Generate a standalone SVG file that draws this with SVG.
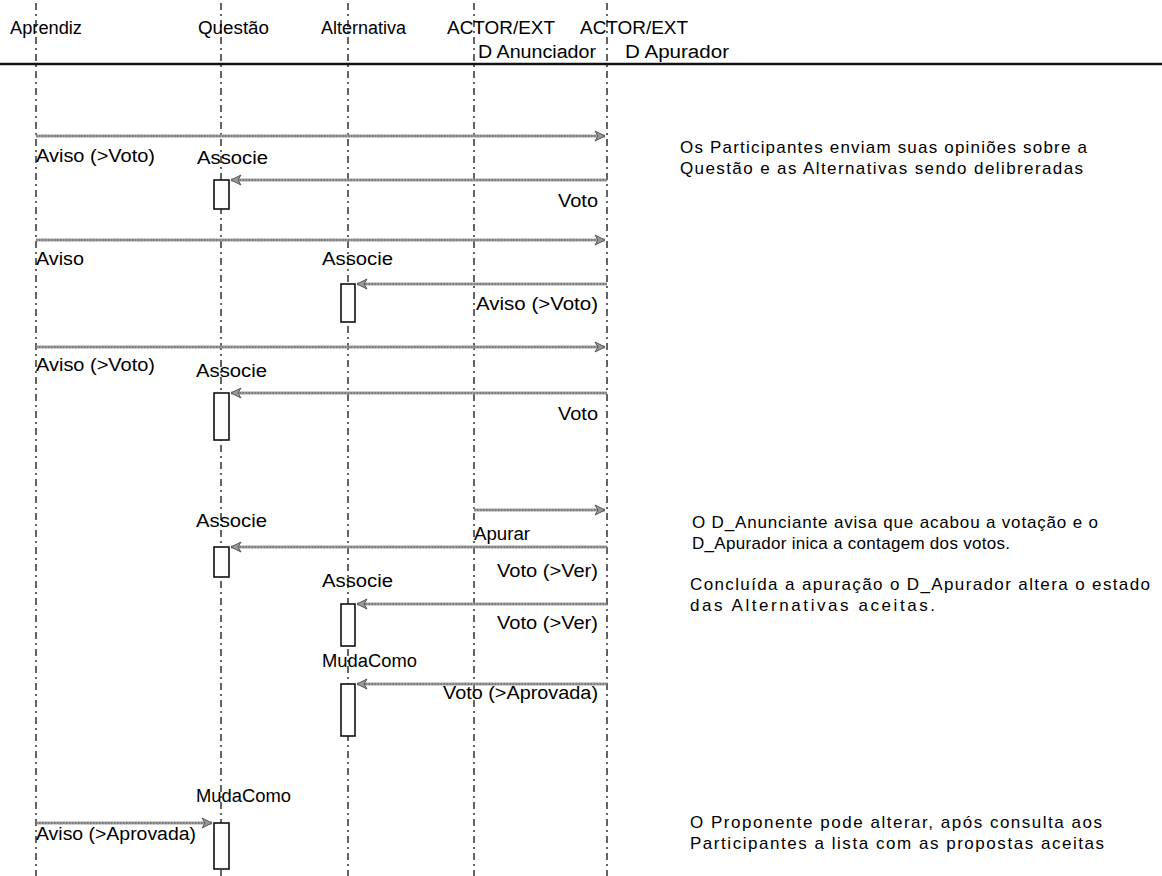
<svg xmlns="http://www.w3.org/2000/svg" width="1162" height="876" viewBox="0 0 1162 876">
  <style>
    text { font-family: "Liberation Sans", Arial, sans-serif; fill: #000; }
    .hdr { font-size: 18px; }
    .lbl { font-size: 18px; }
    .note { font-size: 17px; }
    .life { stroke: #111; stroke-width: 1.3; stroke-dasharray: 7 4 2 4; fill: none; }
    .act { fill: #fff; stroke: #111; stroke-width: 1.6; }
    .msg-base { stroke: #a0a0a0; stroke-width: 3; fill: none; }
    .msg-core { stroke: #505050; stroke-width: 1; stroke-dasharray: 1.5 1.5; fill: none; }
  </style>
  <defs>
    <marker id="head" markerUnits="userSpaceOnUse" markerWidth="14" markerHeight="12" viewBox="0 0 14 12" refX="12" refY="6" orient="auto">
      <path d="M2,1 L12,6 L2,11 L5,6 Z" fill="#9a9a9a" stroke="#555" stroke-width="1"/>
    </marker>
  </defs>

  <rect width="1162" height="876" fill="#fff"/>

  <!-- header rule -->
  <line x1="0" y1="64" x2="1162" y2="64" stroke="#111" stroke-width="2.5"/>

  <!-- lifelines with their header labels -->
  <g id="aprendiz">
    <line class="life" x1="36" y1="3" x2="36" y2="876"/>
    <text class="hdr" x="10" y="34" textLength="72" lengthAdjust="spacingAndGlyphs">Aprendiz</text>
  </g>
  <g id="questao">
    <line class="life" x1="221" y1="3" x2="221" y2="876"/>
    <text class="hdr" x="198" y="34" textLength="71" lengthAdjust="spacingAndGlyphs">Questão</text>
  </g>
  <g id="alternativa">
    <line class="life" x1="348" y1="3" x2="348" y2="876"/>
    <text class="hdr" x="321" y="34" textLength="85" lengthAdjust="spacingAndGlyphs">Alternativa</text>
  </g>
  <g id="anunciador">
    <line class="life" x1="474" y1="3" x2="474" y2="876"/>
    <text class="hdr" x="447" y="34" textLength="108" lengthAdjust="spacingAndGlyphs">ACTOR/EXT</text>
    <text class="hdr" x="478" y="58" textLength="118" lengthAdjust="spacingAndGlyphs">D Anunciador</text>
  </g>
  <g id="apurador">
    <line class="life" x1="607" y1="3" x2="607" y2="876"/>
    <text class="hdr" x="580" y="34" textLength="108" lengthAdjust="spacingAndGlyphs">ACTOR/EXT</text>
    <text class="hdr" x="625" y="58" textLength="104" lengthAdjust="spacingAndGlyphs">D Apurador</text>
  </g>

  <!-- activation bars -->
  <g id="activations">
    <rect class="act" x="214" y="180" width="15" height="29"/>
    <rect class="act" x="341" y="284" width="14" height="38"/>
    <rect class="act" x="214" y="393" width="15" height="47"/>
    <rect class="act" x="214" y="547" width="15" height="30"/>
    <rect class="act" x="341" y="604" width="14" height="42"/>
    <rect class="act" x="341" y="684" width="14" height="52"/>
    <rect class="act" x="214" y="823" width="15" height="46"/>
  </g>

  <!-- messages -->
  <g id="connectors">
    <g>
      <line class="msg-base" x1="36" y1="136" x2="605" y2="136" marker-end="url(#head)"/>
      <line class="msg-core" x1="36" y1="136" x2="598" y2="136"/>
    </g>
    <g>
      <line class="msg-base" x1="607" y1="180" x2="231" y2="180" marker-end="url(#head)"/>
      <line class="msg-core" x1="607" y1="180" x2="238" y2="180"/>
    </g>
    <g>
      <line class="msg-base" x1="36" y1="240" x2="605" y2="240" marker-end="url(#head)"/>
      <line class="msg-core" x1="36" y1="240" x2="598" y2="240"/>
    </g>
    <g>
      <line class="msg-base" x1="607" y1="284" x2="357" y2="284" marker-end="url(#head)"/>
      <line class="msg-core" x1="607" y1="284" x2="364" y2="284"/>
    </g>
    <g>
      <line class="msg-base" x1="36" y1="347" x2="605" y2="347" marker-end="url(#head)"/>
      <line class="msg-core" x1="36" y1="347" x2="598" y2="347"/>
    </g>
    <g>
      <line class="msg-base" x1="607" y1="393" x2="231" y2="393" marker-end="url(#head)"/>
      <line class="msg-core" x1="607" y1="393" x2="238" y2="393"/>
    </g>
    <g>
      <line class="msg-base" x1="474" y1="510" x2="605" y2="510" marker-end="url(#head)"/>
      <line class="msg-core" x1="474" y1="510" x2="598" y2="510"/>
    </g>
    <g>
      <line class="msg-base" x1="607" y1="547" x2="231" y2="547" marker-end="url(#head)"/>
      <line class="msg-core" x1="607" y1="547" x2="238" y2="547"/>
    </g>
    <g>
      <line class="msg-base" x1="607" y1="604" x2="357" y2="604" marker-end="url(#head)"/>
      <line class="msg-core" x1="607" y1="604" x2="364" y2="604"/>
    </g>
    <g>
      <line class="msg-base" x1="607" y1="684" x2="357" y2="684" marker-end="url(#head)"/>
      <line class="msg-core" x1="607" y1="684" x2="364" y2="684"/>
    </g>
    <g>
      <line class="msg-base" x1="36" y1="823" x2="212" y2="823" marker-end="url(#head)"/>
      <line class="msg-core" x1="36" y1="823" x2="205" y2="823"/>
    </g>
  </g>

  <!-- message and operation labels -->
  <g id="labels">
    <text class="lbl" x="36" y="162" textLength="119" lengthAdjust="spacingAndGlyphs">Aviso (&gt;Voto)</text>
    <text class="lbl" x="197" y="164" textLength="71" lengthAdjust="spacingAndGlyphs">Associe</text>
    <text class="lbl" x="558" y="207" textLength="40" lengthAdjust="spacingAndGlyphs">Voto</text>
    <text class="lbl" x="36" y="265" textLength="48" lengthAdjust="spacingAndGlyphs">Aviso</text>
    <text class="lbl" x="322" y="265" textLength="71" lengthAdjust="spacingAndGlyphs">Associe</text>
    <text class="lbl" x="476" y="310" textLength="122" lengthAdjust="spacingAndGlyphs">Aviso (&gt;Voto)</text>
    <text class="lbl" x="36" y="371" textLength="119" lengthAdjust="spacingAndGlyphs">Aviso (&gt;Voto)</text>
    <text class="lbl" x="196" y="377" textLength="71" lengthAdjust="spacingAndGlyphs">Associe</text>
    <text class="lbl" x="558" y="420" textLength="40" lengthAdjust="spacingAndGlyphs">Voto</text>
    <text class="lbl" x="196" y="527" textLength="71" lengthAdjust="spacingAndGlyphs">Associe</text>
    <text class="lbl" x="474" y="540" textLength="56" lengthAdjust="spacingAndGlyphs">Apurar</text>
    <text class="lbl" x="497" y="577" textLength="101" lengthAdjust="spacingAndGlyphs">Voto (&gt;Ver)</text>
    <text class="lbl" x="322" y="587" textLength="71" lengthAdjust="spacingAndGlyphs">Associe</text>
    <text class="lbl" x="497" y="629" textLength="101" lengthAdjust="spacingAndGlyphs">Voto (&gt;Ver)</text>
    <text class="lbl" x="322" y="667" textLength="95" lengthAdjust="spacingAndGlyphs">MudaComo</text>
    <text class="lbl" x="443" y="699" textLength="155" lengthAdjust="spacingAndGlyphs">Voto (&gt;Aprovada)</text>
    <text class="lbl" x="196" y="802" textLength="95" lengthAdjust="spacingAndGlyphs">MudaComo</text>
    <text class="lbl" x="36" y="840" textLength="160" lengthAdjust="spacingAndGlyphs">Aviso (&gt;Aprovada)</text>
  </g>

  <!-- side notes -->
  <g id="note-opinioes">
    <text class="note" x="680" y="153" textLength="407" lengthAdjust="spacing">Os Participantes enviam suas opiniões sobre a</text>
    <text class="note" x="680" y="174" textLength="403" lengthAdjust="spacing">Questão e as Alternativas sendo delibreradas</text>
  </g>
  <g id="note-apuracao">
    <text class="note" x="692" y="528" textLength="406" lengthAdjust="spacing">O D_Anunciante avisa que acabou a votação e o</text>
    <text class="note" x="692" y="549" textLength="318" lengthAdjust="spacing">D_Apurador inica a contagem dos votos.</text>
  </g>
  <g id="note-estado">
    <text class="note" x="690" y="590" textLength="460" lengthAdjust="spacing">Concluída a apuração o D_Apurador altera o estado</text>
    <text class="note" x="690" y="611" textLength="245" lengthAdjust="spacing">das Alternativas aceitas.</text>
  </g>
  <g id="note-proponente">
    <text class="note" x="690" y="828" textLength="412" lengthAdjust="spacing">O Proponente pode alterar, após consulta aos</text>
    <text class="note" x="690" y="849" textLength="414" lengthAdjust="spacing">Participantes a lista com as propostas aceitas</text>
  </g>
</svg>
